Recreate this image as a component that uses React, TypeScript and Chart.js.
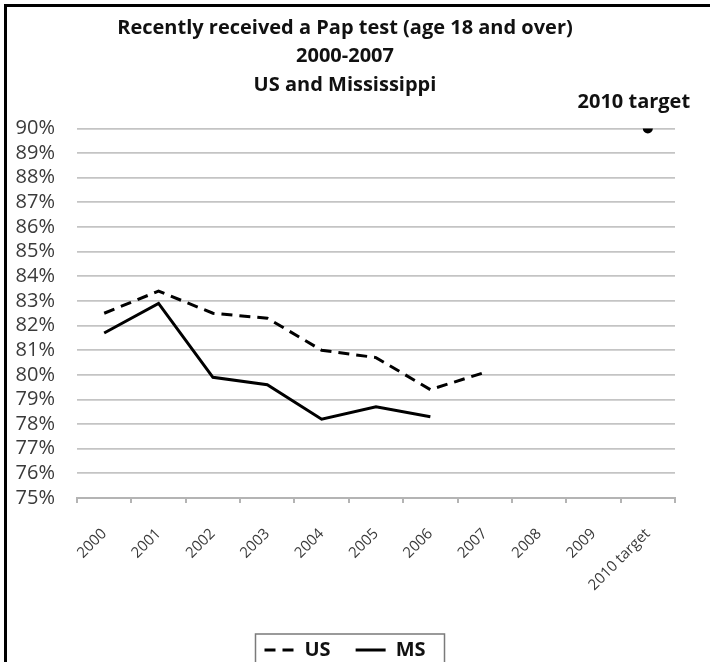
import { useEffect, useRef } from "react";
import { Chart, registerables } from "chart.js";

Chart.register(...registerables);

const categories = ["2000", "2001", "2002", "2003", "2004", "2005", "2006", "2007", "2008", "2009", "2010 target"];
const usValues = [82.5, 83.4, 82.5, 82.3, 81.0, 80.7, 79.4, 80.1, null, null, null];
const msValues = [81.7, 82.9, 79.9, 79.6, 78.2, 78.7, 78.3, null, null, null, null];
const targetValues = [null, null, null, null, null, null, null, null, null, null, 90];
const titleLines = ["Recently received a Pap test (age 18 and over)", "2000-2007", "US and Mississippi"];
const targetLabel = "2010 target";
const yMin = 75;
const yMax = 90;

const FONT = "'Open Sans', Lato, sans-serif";

const legendBoxPlugin = {
  id: "legendBox",
  afterDraw(chart: any) {
    const lg = chart.legend;
    if (!lg || !lg.legendHitBoxes || !lg.legendHitBoxes.length) return;
    const boxes = lg.legendHitBoxes;
    let l = Infinity, r = -Infinity, t = Infinity, b = -Infinity;
    for (const h of boxes) {
      l = Math.min(l, h.left);
      r = Math.max(r, h.left + h.width);
      t = Math.min(t, h.top);
      b = Math.max(b, h.top + h.height);
    }
    const ctx = chart.ctx;
    ctx.save();
    ctx.strokeStyle = "#7a7a7a";
    ctx.lineWidth = 1.5;
    ctx.strokeRect(l - 9, t - 6, r - l + 28, b - t + 16);
    ctx.restore();
  },
};

const targetLabelPlugin = {
  id: "targetLabel",
  afterDatasetsDraw(chart: any) {
    const meta = chart.getDatasetMeta(2);
    const idx = targetValues.findIndex((v) => v !== null);
    const pt = meta.data[idx];
    if (!pt) return;
    const ctx = chart.ctx;
    ctx.save();
    ctx.font = `bold 20px ${FONT}`;
    ctx.fillStyle = "#111";
    ctx.textAlign = "center";
    ctx.textBaseline = "middle";
    ctx.fillText(targetLabel, pt.x - 14, pt.y - 26);
    ctx.restore();
  },
};

export default function App() {
  const ref = useRef<HTMLCanvasElement | null>(null);

  useEffect(() => {
    if (!ref.current) return;
    Chart.defaults.font.family = FONT;
    const chart = new Chart(ref.current, {
      type: "line",
      data: {
        labels: categories,
        datasets: [
          {
            label: "US",
            data: usValues,
            borderColor: "#000",
            backgroundColor: "#000",
            borderWidth: 3,
            borderDash: [11, 7],
            pointRadius: 0,
          },
          {
            label: "MS",
            data: msValues,
            borderColor: "#000",
            backgroundColor: "#000",
            borderWidth: 3,
            pointRadius: 0,
          },
          {
            label: "target",
            data: targetValues,
            borderColor: "#000",
            backgroundColor: "#000",
            showLine: false,
            pointRadius: 5,
            pointBorderWidth: 0,
          },
        ],
      },
      options: {
        responsive: false,
        animation: false,
        layout: { padding: { left: 15, right: 35, top: 0, bottom: 30 } },
        plugins: {
          title: {
            display: true,
            text: titleLines,
            color: "#111",
            font: { size: 20, weight: "bold", family: FONT, lineHeight: 1.425 },
            padding: { top: 14, bottom: 29 },
          },
          legend: {
            display: true,
            position: "bottom",
            labels: {
              usePointStyle: true,
              pointStyle: "line",
              pointStyleWidth: 30,
              color: "#111",
              font: { size: 20, weight: "bold", family: FONT },
              padding: 25,
              generateLabels: (c: any) => {
                const items = (Chart.defaults.plugins.legend.labels as any).generateLabels(c);
                return items.map((it: any) => ({
                  ...it,
                  lineDash: c.data.datasets[it.datasetIndex].borderDash || [],
                  lineWidth: 3,
                  strokeStyle: "#000",
                }));
              },
              filter: (item: any) => item.datasetIndex !== 2,
            },
          },
          tooltip: { enabled: false },
        },
        scales: {
          x: {
            offset: true,
            grid: {
              offset: true,
              drawOnChartArea: false,
              drawTicks: true,
              tickLength: 5,
              color: "#b4b4b4",
              lineWidth: 2,
            },
            border: { display: true, color: "#b4b4b4", width: 2 },
            ticks: {
              autoSkip: false,
              maxRotation: 45,
              minRotation: 45,
              padding: 22,
              color: "#3a3a3a",
              font: { size: 15, family: FONT },
            },
            afterFit: (scale: any) => {
              scale.height = 117;
            },
          },
          y: {
            min: yMin,
            max: yMax,
            grid: { color: "#c4c4c4", lineWidth: 1.8, drawTicks: false },
            border: { display: false },
            ticks: {
              autoSkip: false,
              stepSize: 1,
              padding: 22,
              color: "#3a3a3a",
              font: { size: 20, family: FONT },
              callback: (v: any) => `${v}%`,
            },
            afterFit: (scale: any) => {
              scale.width = 62;
            },
          },
        },
      },
      plugins: [legendBoxPlugin, targetLabelPlugin],
    });
    return () => chart.destroy();
  }, []);

  return (
    <div
      style={{
        position: "fixed",
        left: 0,
        top: 0,
        width: 710,
        height: 662,
        overflow: "hidden",
        background: "#fff",
      }}
    >
      <canvas ref={ref} width={710} height={700} style={{ position: "absolute", left: 0, top: 0 }} />
      <div
        style={{
          position: "absolute",
          left: 4,
          top: 4,
          width: 720,
          height: 700,
          borderLeft: "3px solid #000",
          borderTop: "3px solid #000",
          pointerEvents: "none",
        }}
      />
    </div>
  );
}
